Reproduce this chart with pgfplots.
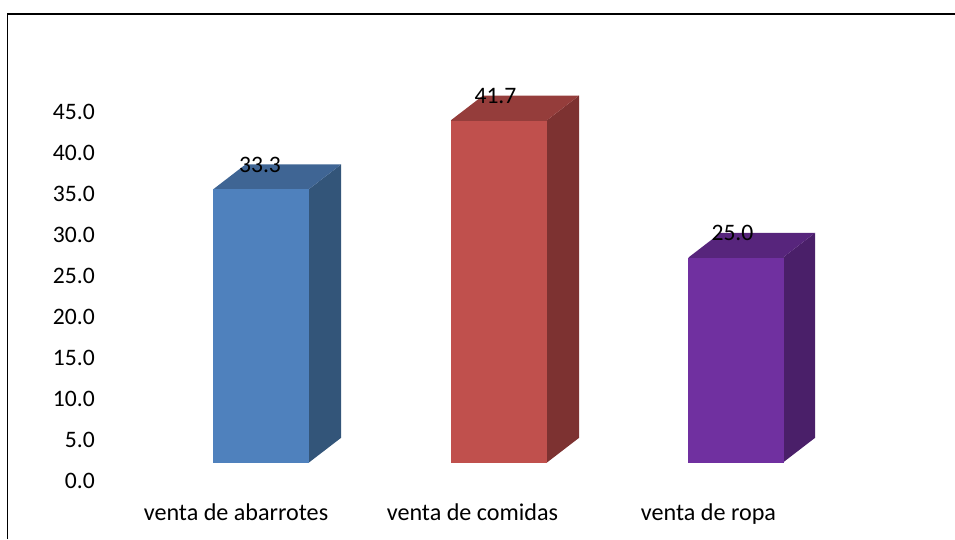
\documentclass[border=0pt]{standalone}
\usepackage{fontspec}
\setmainfont{Carlito}
\usepackage{pgfplots}
\pgfplotsset{compat=1.18}

% 1 px of the reference = 0.75pt; x axis runs in reference pixels
\definecolor{blueF}{HTML}{4F81BD}
\definecolor{blueT}{HTML}{3F6594}
\definecolor{blueS}{HTML}{335579}
\definecolor{redF}{HTML}{C0504D}
\definecolor{redT}{HTML}{953D3B}
\definecolor{redS}{HTML}{7D3231}
\definecolor{purF}{HTML}{7030A0}
\definecolor{purT}{HTML}{57257C}
\definecolor{purS}{HTML}{4A1F69}

\begin{document}
\begin{tikzpicture}
\path[use as bounding box] (0,0) rectangle (716.25pt,404.25pt);
\draw[black, line width=1.3pt] (5.6pt,0) -- (5.6pt,394pt) -- (716.25pt,394pt);
\begin{axis}[
  at={(75pt,43.5pt)}, anchor=south west,
  scale only axis,
  width=641.25pt, height=307.5pt,
  xmin=100, xmax=955,
  ymin=0, ymax=50,
  axis line style={draw=none},
  major tick length=0pt,
  tick style={draw=none},
  ytick={0,5,...,45},
  xtick={236,472.5,708.5},
  xticklabels={venta de abarrotes,venta de comidas,venta de ropa},
  /pgf/number format/assume math mode=true,
  /pgf/number format/fixed,
  /pgf/number format/fixed zerofill,
  /pgf/number format/precision=1,
  yticklabel style={font=\fontsize{17.7}{20}\selectfont, inner sep=0pt, xshift=-3.75pt},
  xticklabel style={font=\fontsize{18.1}{20}\selectfont, inner sep=0pt, yshift=-16.5pt},
  bar width=71.6pt,
  nodes near coords,
  every node near coord/.style={font=\fontsize{17.7}{20}\selectfont, inner sep=0pt, anchor=center, yshift=18.75pt, xshift=-0.75pt},
]
% side and top faces run a little under the front bars so no seam shows
\addplot[fill=blueS, draw=none, nodes near coords=\relax, forget plot] coordinates {(308,2.26)(309,2.26)(341,5.26)(341,38.6)(309,35.6)(308,35.4)} --cycle;
\addplot[fill=blueT, draw=none, nodes near coords=\relax, forget plot] coordinates {(213.5,35.4)(213.5,35.6)(245.5,38.6)(341,38.6)(309,35.6)(309,35.4)} --cycle;
\addplot[fill=redS, draw=none, nodes near coords=\relax, forget plot] coordinates {(546,2.26)(547,2.26)(579,5.26)(579,47)(547,44)(546,43.8)} --cycle;
\addplot[fill=redT, draw=none, nodes near coords=\relax, forget plot] coordinates {(451,43.8)(451,44)(483,47)(579,47)(547,44)(547,43.8)} --cycle;
\addplot[fill=purS, draw=none, nodes near coords=\relax, forget plot] coordinates {(782,2.26)(783,2.26)(815,5.26)(815,30.26)(783,27.26)(782,27.06)} --cycle;
\addplot[fill=purT, draw=none, nodes near coords=\relax, forget plot] coordinates {(688.5,27.06)(688.5,27.26)(720.5,30.26)(815,30.26)(783,27.26)(783,27.06)} --cycle;
% front faces, lifted 2.26 units above the floor
\addplot[ybar, bar shift=0pt, fill=blueF, draw=none, yshift=13.875pt] coordinates {(261,33.3)};
\addplot[ybar, bar shift=0pt, fill=redF, draw=none, yshift=13.875pt, every node near coord/.append style={xshift=-1.9pt}] coordinates {(499,41.7)};
\addplot[ybar, bar shift=0pt, fill=purF, draw=none, yshift=13.875pt, every node near coord/.append style={xshift=-1.9pt}] coordinates {(736,25.0)};
\end{axis}
\end{tikzpicture}
\end{document}
